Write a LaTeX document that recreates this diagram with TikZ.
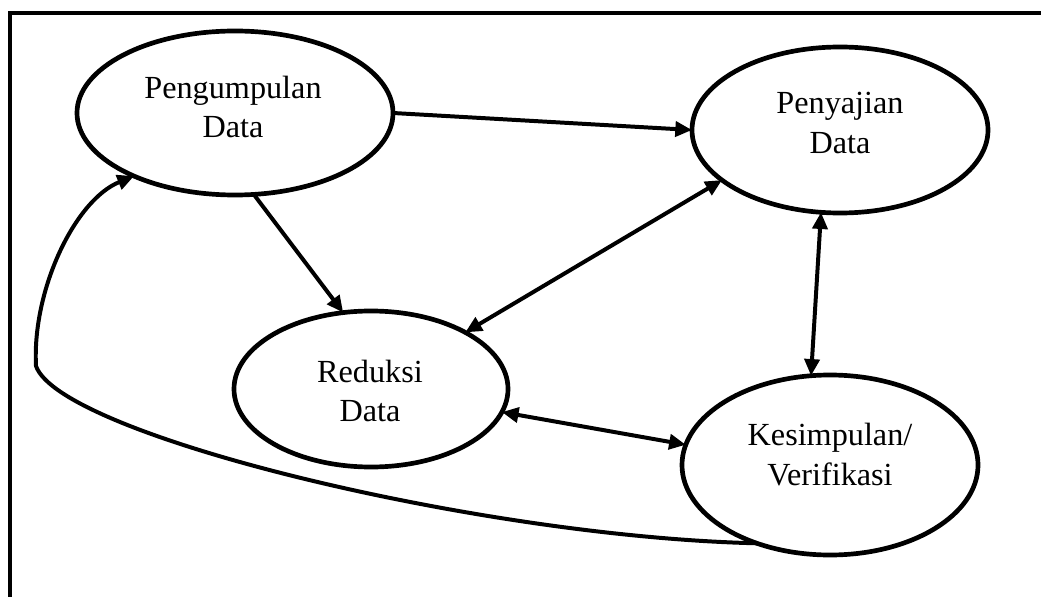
\documentclass[tikz,border=0pt]{standalone}
\usepackage{fontspec}
\setmainfont{Liberation Serif}
\usetikzlibrary{shapes.geometric,arrows.meta}
\begin{document}
\begin{tikzpicture}[x=0.03cm,y=-0.03cm,
  proc/.style={ellipse,draw,line width=4pt,inner sep=0pt,outer sep=0pt},
  txt/.style={align=center,font=\fontsize{27.5pt}{34.1pt}\selectfont},
  conn/.style={line width=3.4pt,-{Triangle[length=0.5cm,width=0.45cm]}},
  biconn/.style={line width=3.4pt,{Triangle[length=0.5cm,width=0.45cm]}-{Triangle[length=0.5cm,width=0.45cm]}},
  frame/.style={line width=4pt}]
\useasboundingbox (0,0) rectangle (1041,597);
% frame
\coordinate (fb) at (10,599);
\coordinate (fc) at (10,13);
\coordinate (fr) at (1043,13);
\draw[frame] (fb) -- (fc) -- (fr);
% nodes
\node[proc,minimum width=9.48cm,minimum height=4.92cm] (P) at (235,113) {};
\node[proc,minimum width=8.88cm,minimum height=4.98cm] (S) at (840,130) {};
\node[proc,minimum width=8.22cm,minimum height=4.68cm] (R) at (371,389) {};
\node[proc,minimum width=8.88cm,minimum height=5.40cm] (K) at (830,465) {};
\node[txt] (Pt) at (233,107) {Pengumpulan\\Data};
\node[txt] (St) at (840,123) {Penyajian\\Data};
\node[txt] (Rt) at (370,391) {Reduksi\\Data};
\node[txt] (Kt) at (830,455) {Kesimpulan/\\Verifikasi};
% connectors
\draw[conn] (P.east) -- (S.west);
\draw[conn] (P.-77) -- (R.110);
\draw[biconn] (S.203) -- (R.31);
\draw[biconn] (S.-103) -- (K.102);
\draw[biconn] (R.-10) -- (K.172);
\draw[conn] (K.227) .. controls (480,537) and (60,435) .. (36,366)
  .. controls (32,290) and (75,200) .. (P.212);
\end{tikzpicture}
\end{document}
